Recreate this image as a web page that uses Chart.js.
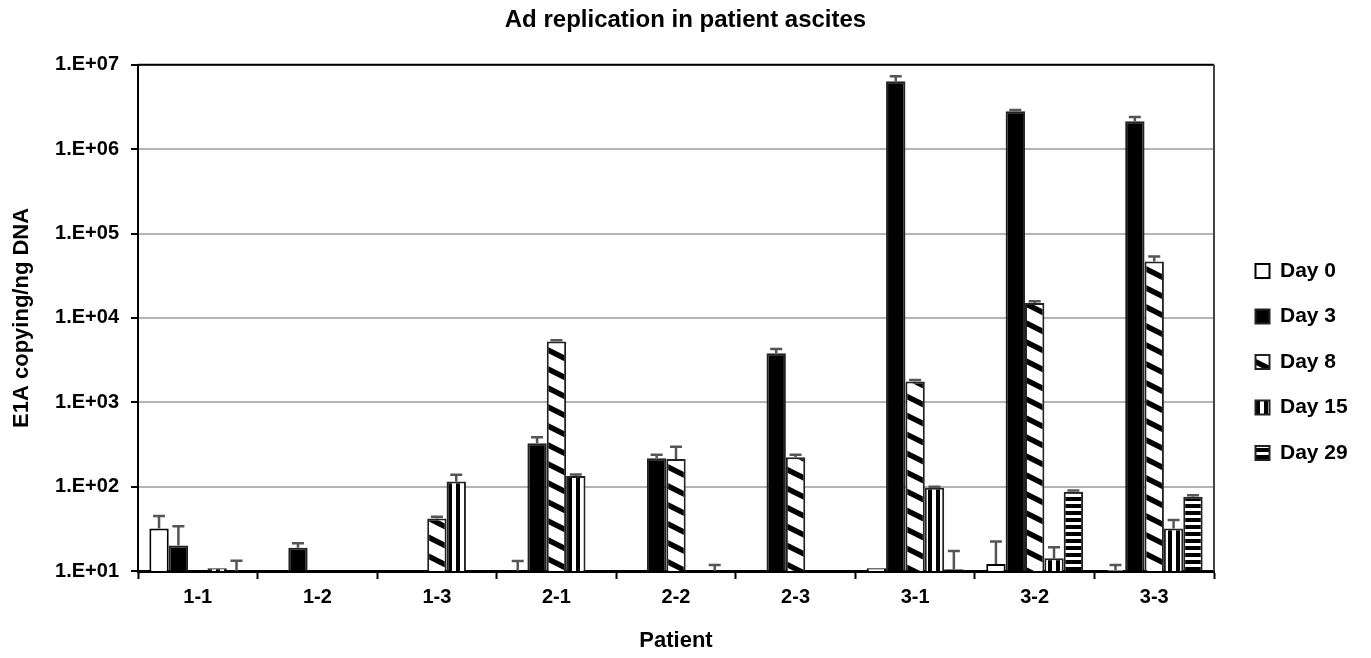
<!DOCTYPE html>
<html>
<head>
<meta charset="utf-8">
<script src="https://cdn.jsdelivr.net/npm/chart.js@4.4.0/dist/chart.umd.min.js"></script>
<style>
html, body { margin: 0; padding: 0; background: #fff; }
</style>
</head>
<body>
<canvas id="myChart" width="1371" height="658"></canvas>
<script>
const patients = ['1-1', '1-2', '1-3', '2-1', '2-2', '2-3', '3-1', '3-2', '3-3'];
const dayLabels = ['Day 0', 'Day 3', 'Day 8', 'Day 15', 'Day 29'];

const day0 = [32, null, null, 10, null, null, 10.8, 12.1, 10.3];
const day3 = [20, 18.9, null, 327, 217, 3820, 6370000, 2810000, 2140000];
const day8 = [null, null, 42, 5250, 212, 223, 1760, 15000, 46700];
const day15 = [10.8, null, 115, 134, null, null, 97, 14.2, 32];
const day29 = [10, null, null, null, 10, null, 10.5, 87, 76];

const err0 = [13, 0, 0, 3.1, 0, 0, 0, 10.2, 1.5];
const err3 = [14, 2.4, 0, 59, 21, 450, 950000, 100000, 270000];
const err8 = [0, 0, 2, 200, 86, 15, 80, 700, 6800];
const err15 = [0, 0, 23, 5, 0, 0, 3, 4.9, 8.3];
const err29 = [3.2, 0, 0, 0, 1.8, 0, 6.8, 3, 3];

const yTicks = [10, 100, 1000, 10000, 100000, 1000000, 10000000];
const yTickLabels = ['1.E+01', '1.E+02', '1.E+03', '1.E+04', '1.E+05', '1.E+06', '1.E+07'];

Chart.defaults.font.family = '"Liberation Sans", Arial, sans-serif';
Chart.defaults.font.weight = 'bold';
Chart.defaults.color = '#000';

// rellenos rayados
const makePattern = (kind) => {
    const c = document.createElement('canvas');
    const g = c.getContext('2d');
    if (kind === 'diag') {
        c.width = 38; c.height = 19;
        g.fillStyle = '#fff';
        g.fillRect(0, 0, 38, 19);
        g.strokeStyle = '#000';
        g.lineWidth = 5.5;
        [-19, 0, 19].forEach(off => {
            g.beginPath();
            g.moveTo(-2, off - 1);
            g.lineTo(40, off + 20);
            g.stroke();
        });
    } else if (kind === 'vert') {
        c.width = 8; c.height = 8;
        g.fillStyle = '#fff';
        g.fillRect(0, 0, 8, 8);
        g.fillStyle = '#000';
        g.fillRect(0, 0, 4, 8);
    } else {
        c.width = 8; c.height = 7;
        g.fillStyle = '#fff';
        g.fillRect(0, 0, 8, 7);
        g.fillStyle = '#000';
        g.fillRect(0, 0, 8, 4);
    }
    return g.createPattern(c, 'repeat');
};

const errorBars = {
    id: 'errorBars',
    afterDatasetsDraw(chart) {
        const { ctx, chartArea, scales } = chart;
        ctx.save();
        ctx.beginPath();
        ctx.rect(chartArea.left, chartArea.top - 2, chartArea.right - chartArea.left, chartArea.bottom - chartArea.top + 2);
        ctx.clip();
        ctx.strokeStyle = '#555';
        ctx.lineWidth = 2.5;
        chart.data.datasets.forEach((ds, i) => {
            const meta = chart.getDatasetMeta(i);
            meta.data.forEach((bar, j) => {
                const v = ds.data[j];
                const e = ds.errors[j];
                if (v == null || !e) return;
                const yTop = scales.y.getPixelForValue(v + e);
                ctx.beginPath();
                ctx.moveTo(bar.x, bar.y);
                ctx.lineTo(bar.x, yTop);
                ctx.moveTo(bar.x - 6, yTop);
                ctx.lineTo(bar.x + 6, yTop);
                ctx.stroke();
            });
        });
        ctx.restore();
    }
};

const plotBox = {
    id: 'plotBox',
    afterDraw(chart) {
        const { ctx, chartArea } = chart;
        ctx.save();
        ctx.strokeStyle = '#000';
        ctx.lineWidth = 2;
        ctx.beginPath();
        ctx.moveTo(chartArea.left, chartArea.top);
        ctx.lineTo(chartArea.right, chartArea.top);
        ctx.stroke();
        ctx.strokeStyle = '#444';
        ctx.beginPath();
        ctx.moveTo(chartArea.right, chartArea.top);
        ctx.lineTo(chartArea.right, chartArea.bottom);
        ctx.stroke();
        ctx.restore();
    }
};

// leyenda separada del grafico
const legendGap = {
    id: 'legendGap',
    afterInit(chart) {
        const lg = chart.legend;
        const fit = lg.fit;
        lg.fit = function () {
            fit.call(this);
            this.width = 157;
        };
    },
    afterLayout(chart) {
        chart.legend.left += 17;
        chart.legend.top += 33;
        chart.legend.bottom += 33;
    }
};

const ctx = document.querySelector('#myChart');

const myChart = new Chart(ctx, {
    type: 'bar',
    data: {
        labels: patients,
        datasets: [
            { label: dayLabels[0], data: day0, errors: err0, backgroundColor: '#fff', borderColor: '#000', borderWidth: 2 },
            { label: dayLabels[1], data: day3, errors: err3, backgroundColor: '#000', borderColor: '#222', borderWidth: 2 },
            { label: dayLabels[2], data: day8, errors: err8, backgroundColor: makePattern('diag'), borderColor: '#222', borderWidth: 2 },
            { label: dayLabels[3], data: day15, errors: err15, backgroundColor: makePattern('vert'), borderColor: '#222', borderWidth: 2 },
            { label: dayLabels[4], data: day29, errors: err29, backgroundColor: makePattern('horiz'), borderColor: '#222', borderWidth: 2 }
        ]
    },
    options: {
        responsive: false,
        animation: false,
        categoryPercentage: 0.81,
        barPercentage: 1.0,
        layout: { padding: 0 },
        plugins: {
            title: {
                display: true,
                text: 'Ad replication in patient ascites',
                font: { size: 24, weight: 'bold' },
                padding: { top: 6, bottom: 30 }
            },
            legend: {
                position: 'right',
                labels: {
                    boxWidth: 14,
                    boxHeight: 14,
                    padding: 24.5,
                    font: { size: 21, weight: 'bold' },
                    color: '#000'
                }
            },
            tooltip: { enabled: false }
        },
        scales: {
            x: {
                afterFit: (scale) => { scale.height = 87; },
                grid: {
                    display: true,
                    drawOnChartArea: false,
                    tickLength: 8,
                    tickColor: '#000',
                    tickWidth: 2
                },
                border: { color: '#000', width: 3 },
                ticks: { font: { size: 20, weight: 'bold' }, padding: 6, color: '#000' },
                title: {
                    display: true,
                    text: 'Patient',
                    font: { size: 22, weight: 'bold' },
                    padding: { top: 0, bottom: 4 },
                    color: '#000'
                }
            },
            y: {
                type: 'logarithmic',
                min: 10,
                max: 10000000,
                afterFit: (scale) => { scale.width = 138; },
                afterBuildTicks: (scale) => {
                    scale.ticks = yTicks.map(v => ({ value: v }));
                },
                grid: {
                    color: '#b4b4b4',
                    lineWidth: 2,
                    tickLength: 7,
                    tickColor: '#000',
                    tickWidth: 2
                },
                border: { color: '#000', width: 2 },
                ticks: {
                    autoSkip: false,
                    font: { size: 20, weight: 'bold' },
                    padding: 12,
                    color: '#000',
                    callback: (value, index) => yTickLabels[index]
                },
                title: {
                    display: true,
                    text: 'E1A copying/ng DNA',
                    font: { size: 22, weight: 'bold' },
                    padding: { top: 9, bottom: 0 },
                    color: '#000'
                }
            }
        }
    },
    plugins: [errorBars, plotBox, legendGap]
});
</script>
</body>
</html>
